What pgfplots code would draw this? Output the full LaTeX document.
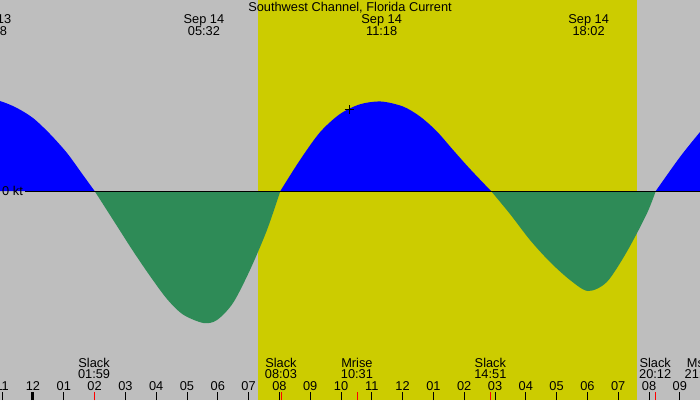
\documentclass[border=0pt]{standalone}
\usepackage{fontspec}
\setmainfont{Liberation Sans}
\usepackage{pgfplots}
\pgfplotsset{compat=1.18}
\definecolor{bggray}{RGB}{190,190,190}
\definecolor{dayyellow}{RGB}{204,204,0}
\definecolor{ebbgreen}{RGB}{46,139,87}
\definecolor{floodblue}{RGB}{0,0,255}

\begin{document}
\begin{tikzpicture}[font=\fontsize{12.8}{12.8}\selectfont]
\begin{axis}[
    scale only axis,
    width=700pt, height=400pt,
    xmin=-1.0714, xmax=21.656,
    ymin=-4.18, ymax=3.82,
    axis background/.style={fill=bggray},
    axis line style={draw=none},
    ytick=\empty,
    xtick={-1,0,...,21},
    xticklabels={11,12,01,02,03,04,05,06,07,08,09,10,11,12,01,02,03,04,05,06,07,08,09},
    xtick pos=left,
    tick align=inside,
    major tick length=8pt,
    tick style={black, line width=0.8pt},
    xticklabel style={anchor=base, yshift=10pt},
    extra x ticks={1.983,8.05,10.517,14.85,20.2},
    extra x tick labels={},
    extra x tick style={major tick style={red, line width=0.8pt}},
    axis on top,
]
% daylight band
\addplot[draw=none, fill=dayyellow] coordinates {(7.305,-4.18) (7.305,3.82) (19.61,3.82) (19.61,-4.18)} --cycle;

% flood (blue) and ebb (green) current, knots
\addplot[draw=none, fill=floodblue, smooth] coordinates {
    (-1.367,1.82) (-1.071,1.80) (-0.552,1.67) (0,1.46) (0.552,1.14) (1.104,0.76) (1.623,0.32) (2.0,0)} \closedcycle;
\addplot[draw=none, fill=ebbgreen, smooth] coordinates {
    (2.0,0) (2.727,-0.70) (3.247,-1.20) (3.799,-1.70) (4.351,-2.16) (4.870,-2.47)
    (5.533,-2.64) (5.974,-2.58) (6.494,-2.24) (7.045,-1.58) (7.597,-0.78) (8.03,0)} \closedcycle;
\addplot[draw=none, fill=floodblue, smooth] coordinates {
    (8.03,0) (8.669,0.62) (9.318,1.175) (9.968,1.54) (10.617,1.734) (11.3,1.79)
    (12.013,1.69) (12.565,1.49) (13.10,1.20) (13.64,0.82) (14.19,0.44) (14.87,0)} \closedcycle;
\addplot[draw=none, fill=ebbgreen, smooth] coordinates {
    (14.87,0) (15.487,-0.46) (16.136,-0.98) (16.786,-1.42) (17.435,-1.78)
    (18.02,-2.00) (18.63,-1.82) (19.276,-1.22) (19.925,-0.46) (20.22,0)} \closedcycle;
\addplot[draw=none, fill=floodblue, smooth] coordinates {
    (20.22,0) (21.006,0.68) (21.656,1.18)} \closedcycle;

% zero line
\addplot[black, line width=0.8pt] coordinates {(-0.26,0) (21.656,0)};
% moonrise marker
\addplot[only marks, mark=+, mark size=4.5pt, black, line width=0.9pt] coordinates {(10.26,1.63)};

% midnight tick
\draw[black, line width=3pt] (axis cs:0,-4.18) -- (axis cs:0,-4.02);

\node[anchor=west, inner sep=0pt] at (axis cs:-1.006,0) {0 kt};

\node[anchor=base] at (axis cs:10.292,3.58) {Southwest Channel, Florida Current};

\node[anchor=base] at (axis cs:-1.367,3.34) {Sep 13};
\node[anchor=base] at (axis cs:-1.367,3.10) {22:38};
\node[anchor=base] at (axis cs:5.55,3.34) {Sep 14};
\node[anchor=base] at (axis cs:5.55,3.10) {05:32};
\node[anchor=base] at (axis cs:11.32,3.34) {Sep 14};
\node[anchor=base] at (axis cs:11.32,3.10) {11:18};
\node[anchor=base] at (axis cs:18.04,3.34) {Sep 14};
\node[anchor=base] at (axis cs:18.04,3.10) {18:02};

\node[anchor=base] at (axis cs:1.983,-3.52) {Slack};
\node[anchor=base] at (axis cs:1.983,-3.74) {01:59};
\node[anchor=base] at (axis cs:8.05,-3.52) {Slack};
\node[anchor=base] at (axis cs:8.05,-3.74) {08:03};
\node[anchor=base] at (axis cs:10.517,-3.52) {Mrise};
\node[anchor=base] at (axis cs:10.517,-3.74) {10:31};
\node[anchor=base] at (axis cs:14.85,-3.52) {Slack};
\node[anchor=base] at (axis cs:14.85,-3.74) {14:51};
\node[anchor=base] at (axis cs:20.2,-3.52) {Slack};
\node[anchor=base] at (axis cs:20.2,-3.74) {20:12};
\node[anchor=base] at (axis cs:21.68,-3.52) {Mset};
\node[anchor=base] at (axis cs:21.68,-3.74) {21:41};

\coordinate (sw) at (rel axis cs:0,0);
\coordinate (ne) at (rel axis cs:1,1);
\end{axis}
\pgfresetboundingbox
\useasboundingbox (sw) rectangle (ne);
\end{tikzpicture}
\end{document}
